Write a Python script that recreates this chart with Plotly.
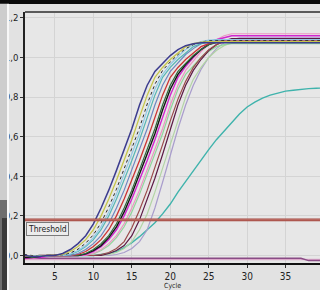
import plotly.graph_objects as go

CYCLES = list(range(1, 41))

NAVY = [0.0, -0.005, -0.005, 0.0, 0.0, 0.01, 0.03, 0.06, 0.10, 0.16,
        0.24, 0.33, 0.43, 0.53, 0.64, 0.76, 0.86, 0.93, 0.97, 1.01,
        1.04, 1.06, 1.07, 1.075, 1.075, 1.075, 1.075, 1.075, 1.075, 1.075,
        1.075, 1.075, 1.075, 1.075, 1.075, 1.075, 1.075, 1.075, 1.075, 1.075]
YELLOW = [0.0, -0.005, -0.005, 0.0, 0.0, 0.005, 0.02, 0.045, 0.08, 0.13,
          0.20, 0.285, 0.38, 0.48, 0.585, 0.70, 0.81, 0.90, 0.95, 0.99,
          1.025, 1.055, 1.07, 1.078, 1.08, 1.08, 1.08, 1.08, 1.08, 1.08,
          1.08, 1.08, 1.08, 1.08, 1.08, 1.08, 1.08, 1.08, 1.08, 1.08]
DOTTED = [0.005, 0.0, -0.005, 0.0, 0.0, 0.003, 0.012, 0.032, 0.062, 0.105,
          0.165, 0.245, 0.335, 0.435, 0.535, 0.645, 0.765, 0.865, 0.935, 0.978,
          1.015, 1.045, 1.065, 1.078, 1.085, 1.085, 1.085, 1.085, 1.085, 1.085,
          1.085, 1.085, 1.085, 1.085, 1.085, 1.085, 1.085, 1.085, 1.085, 1.085]
LIGHTBLUE = [0.0, 0.0, -0.005, 0.0, 0.0, 0.0, 0.008, 0.025, 0.05, 0.09,
             0.145, 0.22, 0.31, 0.41, 0.51, 0.615, 0.735, 0.84, 0.915, 0.965,
             1.005, 1.04, 1.065, 1.08, 1.088, 1.09, 1.09, 1.09, 1.09, 1.09,
             1.09, 1.09, 1.09, 1.09, 1.09, 1.09, 1.09, 1.09, 1.09, 1.09]
TEAL = [0.0, -0.005, 0.0, 0.0, 0.0, 0.0, 0.005, 0.02, 0.045, 0.08,
        0.13, 0.20, 0.285, 0.38, 0.48, 0.585, 0.70, 0.81, 0.90, 0.95,
        0.99, 1.025, 1.055, 1.07, 1.078, 1.08, 1.08, 1.08, 1.08, 1.08,
        1.08, 1.08, 1.08, 1.08, 1.08, 1.08, 1.08, 1.08, 1.08, 1.08]
SLATE = [0.0, 0.0, -0.005, -0.005, 0.0, 0.0, 0.0, 0.01, 0.03, 0.06,
         0.10, 0.16, 0.24, 0.33, 0.43, 0.53, 0.64, 0.76, 0.86, 0.93,
         0.975, 1.015, 1.045, 1.07, 1.082, 1.09, 1.09, 1.09, 1.09, 1.09,
         1.09, 1.09, 1.09, 1.09, 1.09, 1.09, 1.09, 1.09, 1.09, 1.09]
RED = [-0.005, -0.005, 0.0, 0.0, 0.0, 0.0, 0.0, 0.005, 0.02, 0.045,
       0.08, 0.13, 0.20, 0.285, 0.38, 0.48, 0.585, 0.70, 0.81, 0.90,
       0.95, 0.99, 1.025, 1.055, 1.07, 1.08, 1.085, 1.085, 1.085, 1.085,
       1.085, 1.085, 1.085, 1.085, 1.085, 1.085, 1.085, 1.085, 1.085, 1.085]
DARKGREEN = [0.0, -0.01, -0.005, 0.0, 0.0, 0.0, 0.0, 0.0, 0.01, 0.03,
             0.06, 0.10, 0.16, 0.24, 0.33, 0.43, 0.53, 0.64, 0.76, 0.86,
             0.93, 0.97, 1.01, 1.04, 1.065, 1.075, 1.08, 1.08, 1.08, 1.08,
             1.08, 1.08, 1.08, 1.08, 1.08, 1.08, 1.08, 1.08, 1.08, 1.08]
BLACK = [-0.01, -0.01, -0.005, 0.0, 0.0, 0.0, 0.0, 0.0, 0.008, 0.025,
         0.05, 0.09, 0.145, 0.22, 0.31, 0.41, 0.51, 0.615, 0.735, 0.84,
         0.915, 0.965, 1.005, 1.04, 1.065, 1.08, 1.088, 1.09, 1.09, 1.09,
         1.09, 1.09, 1.09, 1.09, 1.09, 1.09, 1.09, 1.09, 1.09, 1.09]
MAGENTA = [-0.015, -0.01, -0.01, -0.005, 0.0, 0.0, 0.0, 0.0, 0.005, 0.02,
           0.045, 0.08, 0.13, 0.20, 0.285, 0.38, 0.48, 0.585, 0.70, 0.81,
           0.90, 0.955, 1.0, 1.04, 1.07, 1.09, 1.10, 1.11, 1.11, 1.11,
           1.11, 1.11, 1.11, 1.11, 1.11, 1.11, 1.11, 1.11, 1.11, 1.11]
PINK = [-0.02, -0.015, -0.01, -0.005, 0.0, 0.0, 0.0, 0.0, 0.0, 0.01,
        0.03, 0.06, 0.10, 0.16, 0.24, 0.33, 0.43, 0.53, 0.64, 0.76,
        0.86, 0.935, 0.985, 1.03, 1.065, 1.09, 1.11, 1.12, 1.12, 1.12,
        1.12, 1.12, 1.12, 1.12, 1.12, 1.12, 1.12, 1.12, 1.12, 1.12]
LIGHTGREEN = [0.0, 0.0, -0.005, 0.0, 0.0, 0.0, 0.0, 0.0, 0.0, 0.008,
              0.025, 0.05, 0.09, 0.145, 0.22, 0.31, 0.41, 0.51, 0.615, 0.735,
              0.84, 0.915, 0.96, 1.0, 1.03, 1.055, 1.065, 1.07, 1.07, 1.07,
              1.07, 1.07, 1.07, 1.07, 1.07, 1.07, 1.07, 1.07, 1.07, 1.07]
BROWN = [-0.005, -0.005, 0.0, 0.0, 0.0, 0.0, 0.0, 0.0, 0.0, 0.0,
         0.005, 0.015, 0.035, 0.07, 0.14, 0.23, 0.33, 0.44, 0.56, 0.68,
         0.79, 0.88, 0.95, 1.0, 1.04, 1.065, 1.08, 1.09, 1.09, 1.09,
         1.09, 1.09, 1.09, 1.09, 1.09, 1.09, 1.09, 1.09, 1.09, 1.09]
MAROON = [-0.01, -0.01, -0.005, 0.0, 0.0, 0.0, 0.0, 0.0, 0.0, 0.0,
          0.0, 0.01, 0.025, 0.05, 0.10, 0.18, 0.28, 0.39, 0.51, 0.64,
          0.76, 0.86, 0.935, 0.99, 1.035, 1.065, 1.085, 1.095, 1.095, 1.095,
          1.095, 1.095, 1.095, 1.095, 1.095, 1.095, 1.095, 1.095, 1.095, 1.095]
PALEGREEN = [0.0, 0.0, 0.0, 0.0, 0.0, 0.0, 0.0, 0.0, 0.0, 0.0,
             0.0, 0.005, 0.015, 0.035, 0.07, 0.13, 0.21, 0.32, 0.44, 0.57,
             0.69, 0.80, 0.89, 0.95, 1.0, 1.035, 1.06, 1.075, 1.08, 1.08,
             1.08, 1.08, 1.08, 1.08, 1.08, 1.08, 1.08, 1.08, 1.08, 1.08]
LAVENDER = [0.0, -0.005, 0.0, 0.0, 0.0, 0.0, 0.0, 0.0, 0.0, 0.0,
            0.0, 0.0, 0.005, 0.015, 0.035, 0.07, 0.13, 0.24, 0.37, 0.51,
            0.64, 0.76, 0.86, 0.94, 1.0, 1.045, 1.075, 1.09, 1.10, 1.10,
            1.10, 1.10, 1.10, 1.10, 1.10, 1.10, 1.10, 1.10, 1.10, 1.10]
CYAN = [0.0, -0.005, 0.0, 0.0, 0.0, 0.0, 0.0, 0.0, 0.0, 0.0,
        0.005, 0.01, 0.02, 0.04, 0.065, 0.095, 0.13, 0.165, 0.21, 0.26,
        0.32, 0.375, 0.43, 0.485, 0.535, 0.585, 0.63, 0.675, 0.715, 0.75,
        0.775, 0.795, 0.81, 0.82, 0.83, 0.835, 0.84, 0.843, 0.845, 0.846]
NEG_PURPLE = [-0.014, -0.014, -0.014, -0.014, -0.014, -0.014, -0.014, -0.014, -0.014, -0.014,
              -0.014, -0.014, -0.014, -0.014, -0.014, -0.014, -0.014, -0.014, -0.014, -0.014,
              -0.014, -0.014, -0.014, -0.014, -0.014, -0.014, -0.014, -0.014, -0.014, -0.014,
              -0.014, -0.014, -0.014, -0.014, -0.014, -0.014, -0.014, -0.026, -0.026, -0.026]
NEG_PINK = [-0.02, -0.02, -0.02, -0.02, -0.02, -0.02, -0.02, -0.02, -0.02, -0.02,
            -0.02, -0.02, -0.02, -0.02, -0.02, -0.02, -0.02, -0.02, -0.02, -0.02,
            -0.02, -0.02, -0.02, -0.02, -0.02, -0.02, -0.02, -0.02, -0.02, -0.02,
            -0.02, -0.02, -0.02, -0.02, -0.02, -0.02, -0.02, -0.02, -0.02, -0.02]

SERIES = [
    ("neg pink", NEG_PINK, "#dcaacb", 1.5, "solid"),
    ("neg purple", NEG_PURPLE, "#8a4c86", 1.5, "solid"),
    ("cyan", CYAN, "#3fb3ac", 1.4, "solid"),
    ("lavender", LAVENDER, "#a89ccc", 1.2, "solid"),
    ("palegreen", PALEGREEN, "#b2d4a4", 1.2, "solid"),
    ("lightgreen", LIGHTGREEN, "#8fd69a", 1.2, "solid"),
    ("maroon", MAROON, "#5c1a44", 1.2, "solid"),
    ("brown", BROWN, "#9a4a4a", 1.2, "solid"),
    ("pink", PINK, "#eb96c2", 1.2, "solid"),
    ("magenta", MAGENTA, "#d026cf", 1.4, "solid"),
    ("black", BLACK, "#141414", 1.4, "solid"),
    ("darkgreen", DARKGREEN, "#2e6a3a", 1.2, "solid"),
    ("red", RED, "#cc3434", 1.3, "solid"),
    ("slate", SLATE, "#6f86c0", 1.2, "solid"),
    ("teal", TEAL, "#55b6b4", 1.2, "solid"),
    ("lightblue", LIGHTBLUE, "#92c9e6", 1.2, "solid"),
    ("dotted", DOTTED, "#2a2a2a", 1.0, "dot"),
    ("yellow", YELLOW, "#c6c64a", 1.3, "solid"),
    ("navy", NAVY, "#3c3c8e", 1.5, "solid"),
]

THRESHOLD = 0.18
X_TICKS = [5, 10, 15, 20, 25, 30, 35, 40]
Y_TICKS = [0.0, 0.2, 0.4, 0.6, 0.8, 1.0, 1.2]
Y_TICK_TEXT = ["0,0", "0,2", "0,4", "0,6", "0,8", "1,0", "1,2"]

fig = go.Figure()
for name, vals, color, width, dash in SERIES:
    fig.add_trace(go.Scatter(x=CYCLES, y=vals, mode="lines", name=name,
                             line=dict(color=color, width=width, dash=dash),
                             hoverinfo="skip", showlegend=False))

# threshold line (double-tone)
fig.add_trace(go.Scatter(x=[CYCLES[0], CYCLES[-1]], y=[THRESHOLD, THRESHOLD], mode="lines",
                         line=dict(color="#a2443c", width=2.6), hoverinfo="skip", showlegend=False))
fig.add_trace(go.Scatter(x=[CYCLES[0], CYCLES[-1]], y=[THRESHOLD, THRESHOLD], mode="lines",
                         line=dict(color="#d08a84", width=0.8), hoverinfo="skip", showlegend=False))

FONT = "Liberation Sans Narrow, DejaVu Sans Condensed, Liberation Sans, sans-serif"

fig.update_xaxes(range=[1.1, 39.48], tickvals=X_TICKS, showgrid=True, gridcolor="#d4d4d4",
                 gridwidth=1, zeroline=False, showline=True, linecolor="#111111", linewidth=2,
                 ticks="outside", ticklen=3, tickcolor="#333333",
                 tickfont=dict(family=FONT, size=10, color="#222222"))
fig.update_yaxes(range=[-0.038, 1.23], tickvals=Y_TICKS, ticktext=Y_TICK_TEXT, showgrid=True,
                 gridcolor="#d4d4d4", gridwidth=1, zeroline=False, showline=True,
                 linecolor="#222222", linewidth=1.5, ticks="outside", ticklen=3,
                 tickcolor="#333333", tickfont=dict(family=FONT, size=9.5, color="#222222"))

shapes = [
    # top frame line
    dict(type="line", xref="paper", yref="paper", x0=0, x1=1.05, y0=1, y1=1,
         line=dict(color="#5a5a5a", width=2), layer="above"),
    # black band at top
    dict(type="rect", xref="paper", yref="paper", x0=-0.2, x1=1.2, y0=1.032, y1=1.2,
         fillcolor="#0a0a0a", line=dict(width=0), layer="above"),
    # left light panel
    dict(type="rect", xref="paper", yref="paper", x0=-0.2, x1=-0.0610, y0=0.251, y1=1.033,
         fillcolor="#cdcdcd", line=dict(width=0), layer="above"),
    # left lower dark panel
    dict(type="rect", xref="paper", yref="paper", x0=-0.2, x1=-0.0610, y0=-0.2, y1=0.251,
         fillcolor="#6e6e6e", line=dict(width=0), layer="above"),
    dict(type="rect", xref="paper", yref="paper", x0=-0.0780, x1=-0.0610, y0=-0.2, y1=0.179,
         fillcolor="#3a3a3a", line=dict(width=0), layer="above"),
    # white vertical strip
    dict(type="rect", xref="paper", yref="paper", x0=-0.0610, x1=-0.0542, y0=-0.2, y1=1.033,
         fillcolor="#f7f7f7", line=dict(width=0), layer="above"),
]

annotations = [
    dict(text="Threshold", xref="paper", yref="y", x=0, y=THRESHOLD, xanchor="left",
         yanchor="top", xshift=1, yshift=-2, showarrow=False,
         font=dict(family=FONT, size=8.5, color="#222222"),
         bgcolor="#ececec", bordercolor="#7a7a7a", borderwidth=1, borderpad=1),
    dict(text="Cycle", xref="x", yref="paper", x=20.3, y=-0.108, xanchor="center",
         yanchor="bottom", yshift=-2, showarrow=False,
         font=dict(family=FONT, size=7, color="#222222")),
]

fig.update_layout(width=320, height=290, margin=dict(l=25, r=0, t=12, b=27),
                  paper_bgcolor="#e2e2e2", plot_bgcolor="#e7e7e7",
                  shapes=shapes, annotations=annotations, showlegend=False)

fig.write_html("out.html", config={"displayModeBar": False},
               post_script="document.body.style.margin='0px';document.body.style.padding='0px';"
                           "document.documentElement.style.overflow='hidden';")
